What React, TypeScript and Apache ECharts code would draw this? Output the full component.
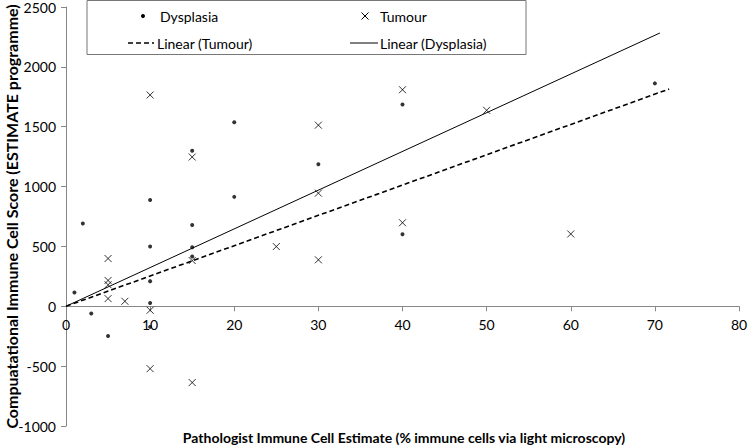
import React, { useEffect, useRef } from "react";
import * as echarts from "echarts";

const dysplasiaX = [1, 2, 3, 5, 10, 10, 10, 10, 10, 15, 15, 15, 15, 20, 20, 30, 40, 40, 70];
const dysplasiaY = [115, 692, -61, -249, 887, 499, 210, 27, -172, 1299, 679, 493, 416, 1538, 914, 1186, 1685, 601, 1862];

const tumourX = [5, 5, 5, 5, 7, 10, 10, 10, 15, 15, 15, 25, 30, 30, 30, 40, 40, 50, 60];
const tumourY = [399, 216, 180, 64, 42, 1765, -33, -521, 1247, 382, -637, 499, 1513, 945, 388, 1809, 698, 1637, 604];

// trend line end points
const trendDysplasiaX = [0, 70.6];
const trendDysplasiaY = [0, 2283];
const trendTumourX = [0, 71.7];
const trendTumourY = [0, 1815];

const xTicks = { min: 0, max: 80, interval: 10 };
const yTicks = { min: -1000, max: 2500, interval: 500 };

const FONT = "Lato, 'Open Sans', sans-serif";

const zip = (xs: number[], ys: number[]) => xs.map((x, i) => [x, ys[i]]);

export default function App() {
  const ref = useRef<HTMLDivElement>(null);
  useEffect(() => {
    if (!ref.current) return;
    const chart = echarts.init(ref.current, null, { renderer: "svg" });
    const axisColor = "#878787";
    const gridTop = 7;
    const gridBottom = 21;
    const plotH = 447 - gridTop - gridBottom;
    // distance from the bottom of the grid up to y = 0
    const zeroOffset = (plotH * (0 - yTicks.min)) / (yTicks.max - yTicks.min);
    chart.setOption({
      animation: false,
      backgroundColor: "#fff",
      textStyle: { fontFamily: FONT },
      grid: {
        left: 66,
        right: 9,
        top: gridTop,
        bottom: gridBottom,
        containLabel: false,
        outerBoundsMode: "none",
      },
      xAxis: {
        type: "value",
        min: xTicks.min,
        max: xTicks.max,
        interval: xTicks.interval,
        offset: -zeroOffset,
        splitLine: { show: false },
        axisLine: { onZero: false, lineStyle: { color: axisColor, width: 1 } },
        axisTick: { show: true, length: 5, lineStyle: { color: axisColor } },
        axisLabel: { color: "#000", fontSize: 14, margin: 11, fontFamily: FONT },
      },
      yAxis: {
        type: "value",
        min: yTicks.min,
        max: yTicks.max,
        interval: yTicks.interval,
        splitLine: { show: false },
        axisLine: { show: true, onZero: false, lineStyle: { color: axisColor, width: 1 } },
        axisTick: { show: true, length: 5, lineStyle: { color: axisColor } },
        axisLabel: {
          color: "#000",
          fontSize: 14,
          margin: 10,
          fontFamily: FONT,
          formatter: (v: number) => String(v),
        },
        name: "Compuatational Immune Cell Score (ESTIMATE programme)",
        nameLocation: "middle",
        nameGap: 47,
        nameMoveOverlap: false,
        nameTextStyle: { color: "#000", fontSize: 16, fontWeight: "bold", fontFamily: FONT },
      },
      series: [
        {
          name: "Dysplasia",
          type: "scatter",
          data: zip(dysplasiaX, dysplasiaY),
          symbol: "circle",
          symbolSize: 4,
          itemStyle: { color: "#000" },
          z: 5,
        },
        {
          name: "Tumour",
          type: "scatter",
          data: zip(tumourX, tumourY),
          symbol: "path://M0,0L10,10M10,0L0,10",
          symbolSize: 7,
          itemStyle: { color: "rgba(0,0,0,0)", borderColor: "#000", borderWidth: 1 },
          z: 5,
        },
        {
          name: "Linear (Tumour)",
          type: "line",
          data: zip(trendTumourX, trendTumourY),
          symbol: "none",
          lineStyle: { color: "#000", width: 1.6, type: [5, 3] },
          z: 3,
        },
        {
          name: "Linear (Dysplasia)",
          type: "line",
          data: zip(trendDysplasiaX, trendDysplasiaY),
          symbol: "none",
          lineStyle: { color: "#000", width: 1 },
          z: 3,
        },
      ],
      graphic: [
        {
          type: "rect",
          shape: { x: 87, y: 0.5, width: 439, height: 54 },
          style: { fill: "#fff", stroke: "#777", lineWidth: 1 },
          z: 10,
        },
        { type: "circle", shape: { cx: 143, cy: 16, r: 2 }, style: { fill: "#000" }, z: 11 },
        { type: "line", shape: { x1: 361.5, y1: 12.5, x2: 368.5, y2: 19.5 }, style: { stroke: "#000", lineWidth: 1 }, z: 11 },
        { type: "line", shape: { x1: 368.5, y1: 12.5, x2: 361.5, y2: 19.5 }, style: { stroke: "#000", lineWidth: 1 }, z: 11 },
        { type: "line", shape: { x1: 128, y1: 43, x2: 154, y2: 43 }, style: { stroke: "#000", lineWidth: 1.6, lineDash: [5, 3] }, z: 11 },
        { type: "line", shape: { x1: 350, y1: 43, x2: 378, y2: 43 }, style: { stroke: "#000", lineWidth: 1 }, z: 11 },
        { type: "text", x: 160, y: 16, style: { text: "Dysplasia", fill: "#000", font: `14px ${FONT}`, verticalAlign: "middle" }, z: 11 },
        { type: "text", x: 380, y: 16, style: { text: "Tumour", fill: "#000", font: `14px ${FONT}`, verticalAlign: "middle" }, z: 11 },
        { type: "text", x: 157, y: 43, style: { text: "Linear (Tumour)", fill: "#000", font: `14px ${FONT}`, verticalAlign: "middle" }, z: 11 },
        { type: "text", x: 380, y: 43, style: { text: "Linear (Dysplasia)", fill: "#000", font: `14px ${FONT}`, verticalAlign: "middle" }, z: 11 },
        {
          type: "text",
          x: 404,
          y: 437,
          style: {
            text: "Pathologist Immune Cell Estimate (% immune cells via light microscopy)",
            fill: "#000",
            font: `bold 14px ${FONT}`,
            align: "center",
            verticalAlign: "middle",
          },
        },
      ],
    });
    return () => chart.dispose();
  }, []);
  return <div ref={ref} style={{ width: 748, height: 447, position: "absolute", left: 0, top: 0 }} />;
}
